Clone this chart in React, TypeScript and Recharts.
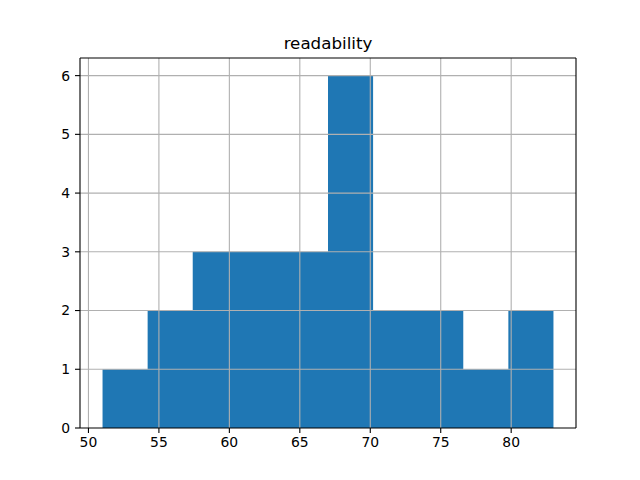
import { ComposedChart, Area, XAxis, YAxis, ReferenceLine } from "recharts";

// 10 bins, edges from 51 to 83
const binEdges = [51, 54.2, 57.4, 60.6, 63.8, 67, 70.2, 73.4, 76.6, 79.8, 83];
const binCounts = [1, 2, 3, 3, 3, 6, 2, 2, 1, 2];
const xTicks = [50, 55, 60, 65, 70, 75, 80];
const yTicks = [0, 1, 2, 3, 4, 5, 6];

// step points: each edge carries the count of the bin to its right (last edge repeats)
const data = binEdges.map((edge, i) => ({
  x: edge,
  count: binCounts[Math.min(i, binCounts.length - 1)],
}));

const FONT = "DejaVu Sans, sans-serif";
const GRID = "#b0b0b0";

export default function App() {
  return (
    <div style={{ position: "absolute", left: 0, top: 0, width: 640, height: 480, background: "#fff" }}>
      <div
        style={{
          position: "absolute",
          left: 80,
          width: 496,
          top: 33,
          textAlign: "center",
          fontFamily: FONT,
          fontSize: 16.7,
          color: "#000",
          lineHeight: "20px",
        }}
      >
        readability
      </div>
      <ComposedChart
        width={640}
        height={480}
        data={data}
        margin={{ top: 58, right: 64, bottom: 0, left: 0 }}
      >
        <XAxis
          dataKey="x"
          type="number"
          domain={[49.4, 84.6]}
          ticks={xTicks}
          allowDataOverflow
          height={52}
          tickSize={5}
          tickMargin={4}
          stroke="#000"
          tick={{ fill: "#000", fontSize: 13.9, fontFamily: FONT }}
          axisLine={{ stroke: "#000", strokeWidth: 1.1 }}
          tickLine={{ stroke: "#000", strokeWidth: 1.1 }}
        />
        <YAxis
          type="number"
          domain={[0, 6.3]}
          ticks={yTicks}
          allowDataOverflow
          width={80}
          tickSize={5}
          tickMargin={5}
          tick={{ fill: "#000", fontSize: 13.9, fontFamily: FONT }}
          axisLine={{ stroke: "#000", strokeWidth: 1.1 }}
          tickLine={{ stroke: "#000", strokeWidth: 1.1 }}
        />
        <Area
          type="stepAfter"
          dataKey="count"
          fill="#1f77b4"
          fillOpacity={1}
          stroke="none"
          isAnimationActive={false}
          dot={false}
          activeDot={false}
        />
        {/* grid drawn over the bars, like matplotlib */}
        {xTicks.map((t) => (
          <ReferenceLine key={`gx-${t}`} x={t} stroke={GRID} strokeWidth={1.1} />
        ))}
        {yTicks.filter((t) => t > 0).map((t) => (
          <ReferenceLine key={`gy-${t}`} y={t} stroke={GRID} strokeWidth={1.1} />
        ))}
        {/* top and right spines */}
        <ReferenceLine y={6.3} stroke="#000" strokeWidth={1.1} />
        <ReferenceLine x={84.6} stroke="#000" strokeWidth={1.1} />
      </ComposedChart>
    </div>
  );
}
